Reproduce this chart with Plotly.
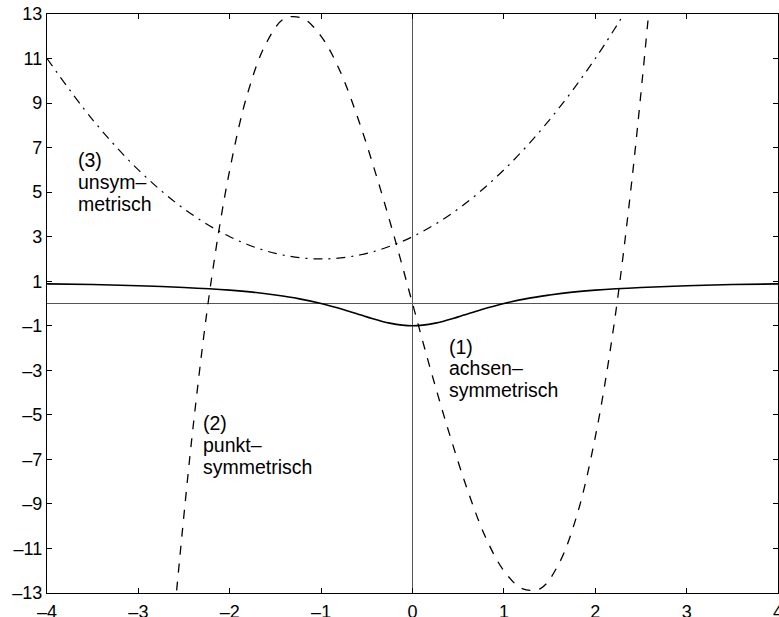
import plotly.graph_objects as go

# (1) axially symmetric curve, sampled values
x1 = [-4, -3.5, -3, -2.5, -2, -1.75, -1.5, -1.25, -1, -0.75, -0.5, -0.25, 0,
      0.25, 0.5, 0.75, 1, 1.25, 1.5, 1.75, 2, 2.5, 3, 3.5, 4]
y1 = [0.88, 0.85, 0.80, 0.72, 0.60, 0.51, 0.38, 0.22, 0.0, -0.28, -0.60, -0.88, -1.0,
      -0.88, -0.60, -0.28, 0.0, 0.22, 0.38, 0.51, 0.60, 0.72, 0.80, 0.85, 0.88]

# (2) point symmetric curve
x2 = [-2.6, -2.4, -2.2, -2.0, -1.8, -1.6, -1.4, -1.2, -1.0, -0.8, -0.6, -0.4, -0.2, 0,
      0.2, 0.4, 0.6, 0.8, 1.0, 1.2, 1.4, 1.6, 1.8, 2.0, 2.2, 2.4, 2.6]
y2 = [-13.7, -5.5, 1.1, 6.0, 9.5, 11.7, 12.8, 12.8, 12.0, 10.5, 8.35, 5.8, 3.0, 0.0,
      -3.0, -5.8, -8.35, -10.5, -12.0, -12.8, -12.8, -11.7, -9.5, -6.0, -1.1, 5.5, 13.7]

# (3) asymmetric curve
x3 = [-4, -3.5, -3, -2.5, -2, -1.5, -1, -0.5, 0, 0.5, 1, 1.5, 2, 2.5]
y3 = [11.0, 8.25, 6.0, 4.25, 3.0, 2.25, 2.0, 2.25, 3.0, 4.25, 6.0, 8.25, 11.0, 14.25]

x_ticks = [-4, -3, -2, -1, 0, 1, 2, 3, 4]
y_ticks = [-13, -11, -9, -7, -5, -3, -1, 1, 3, 5, 7, 9, 11, 13]

labels = [
    (-3.68, [6.43, 5.44, 4.45], ["(3)", "unsym–", "metrisch"]),
    (-2.31, [-5.35, -6.34, -7.33], ["(2)", "punkt–", "symmetrisch"]),
    (0.38, [-1.95, -2.90, -3.90], ["(1)", "achsen–", "symmetrisch"]),
]

FONT = "Liberation Sans, Arial"

fig = go.Figure()
fig.add_trace(go.Scatter(x=x1, y=y1, mode="lines", line=dict(color="black", width=1.6, shape="spline")))
fig.add_trace(go.Scatter(x=x2, y=y2, mode="lines",
                         line=dict(color="black", width=1.3, dash="9px,9px", shape="spline")))
fig.add_trace(go.Scatter(x=x3, y=y3, mode="lines",
                         line=dict(color="black", width=1.2, dash="9px,6px,2px,6px", shape="spline")))

for lx, lys, texts in labels:
    for ly, t in zip(lys, texts):
        fig.add_annotation(x=lx, y=ly, text=t, showarrow=False, xanchor="left", yanchor="middle",
                           font=dict(family=FONT, size=19.5, color="black"))

axis_common = dict(showline=True, linecolor="black", linewidth=1.2, mirror="ticks",
                   ticks="inside", ticklen=5, tickcolor="black", showgrid=False,
                   zeroline=True, zerolinecolor="#555", zerolinewidth=1,
                   ticklabeloverflow="allow", automargin=False,
                   tickfont=dict(family=FONT, size=18, color="black"))

fig.update_xaxes(range=[-4, 4], tickvals=x_ticks, ticktext=[str(v).replace("-", "–") for v in x_ticks],
                 ticklabelstandoff=2, **axis_common)
fig.update_yaxes(range=[-13, 13], tickvals=y_ticks, ticktext=[str(v).replace("-", "–") for v in y_ticks],
                 **axis_common)

fig.update_layout(width=779, height=617, showlegend=False,
                  margin=dict(l=47, r=1, t=14, b=24),
                  plot_bgcolor="white", paper_bgcolor="white")

fig.write_html("out.html")
